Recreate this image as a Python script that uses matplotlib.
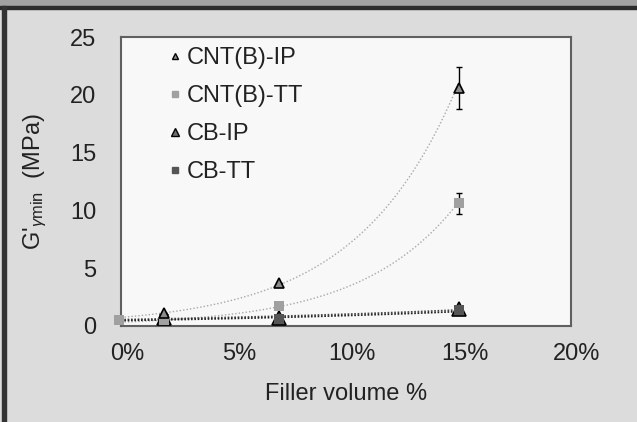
import numpy as np
import matplotlib
matplotlib.use('Agg')
import matplotlib.pyplot as plt
import matplotlib.transforms as mtransforms
from matplotlib.patches import Rectangle

plt.rcParams['font.family'] = ['Liberation Sans', 'DejaVu Sans']
plt.rcParams['mathtext.fontset'] = 'custom'
plt.rcParams['mathtext.rm'] = 'Liberation Sans'
plt.rcParams['mathtext.it'] = 'Liberation Sans:italic'

# data (filler volume fraction, G' in MPa)
x_cnt_ip = [0.019, 0.07, 0.15]
y_cnt_ip = [1.1, 3.7, 20.6]
e_cnt_ip = [0, 0, 1.8]

x_cnt_tt = [-0.001, 0.019, 0.07, 0.15]
y_cnt_tt = [0.55, 0.5, 1.7, 10.6]
e_cnt_tt = [0, 0, 0, 0.9]

x_cb_ip = [0.019, 0.07, 0.15]
y_cb_ip = [0.7, 0.7, 1.5]

x_cb_tt = [0.019, 0.07, 0.15]
y_cb_tt = [0.6, 0.6, 1.35]

xticks = [0, 0.05, 0.10, 0.15, 0.20]
xticklabels = ['0%', '5%', '10%', '15%', '20%']
yticks = [0, 5, 10, 15, 20, 25]

W, H = 637, 422
fs = 17
fig = plt.figure(figsize=(W / 100, H / 100), dpi=100)
fig.patch.set_facecolor('#dcdcdc')
# frame decorations
fig.patches.append(Rectangle((0, 1 - 6 / H), 1, 6 / H, transform=fig.transFigure, color='#a2a2a2', zorder=0))
fig.patches.append(Rectangle((0, 1 - 9 / H), 1, 3 / H, transform=fig.transFigure, color='#2c2c2c', zorder=1))
fig.patches.append(Rectangle((2 / W, 0), 4 / W, 1 - 6 / H, transform=fig.transFigure, color='#333333', zorder=1))

ax = fig.add_axes([121 / W, (H - 326) / H, 450 / W, 289 / H])
ax.set_facecolor('#f8f8f8')
for s in ax.spines.values():
    s.set_color('#606060')
    s.set_linewidth(1.5)

# exponential trendlines
xx = np.linspace(0, 0.15, 200)
def expfit(x, y):
    b, a = np.polyfit(x, np.log(y), 1)
    return np.exp(a) * np.exp(b * xx)

ax.plot(xx, expfit(x_cnt_ip, y_cnt_ip), ls=(0, (1, 1.5)), color='#a8a8a8', lw=1, zorder=2)
ax.plot(xx, expfit(x_cnt_tt[1:], y_cnt_tt[1:]), ls=(0, (1, 1.5)), color='#a8a8a8', lw=1, zorder=2)
ax.plot(xx, expfit(x_cb_ip, y_cb_ip), ls=(0, (1, 1)), color='#444444', lw=1.2, zorder=2)
ax.plot(xx, expfit(x_cb_tt, y_cb_tt), ls=(0, (1, 1)), color='#222222', lw=1.2, zorder=2)

# error bars
ax.errorbar(x_cnt_ip, y_cnt_ip, yerr=e_cnt_ip, fmt='none', ecolor='black', elinewidth=1, capsize=2.5, zorder=4)
ax.errorbar(x_cnt_tt, y_cnt_tt, yerr=e_cnt_tt, fmt='none', ecolor='black', elinewidth=1, capsize=2.5, zorder=4)

h1, = ax.plot(x_cnt_ip, y_cnt_ip, '^', ms=7.5, mfc='#8c8c8c', mec='black', mew=1.2,
              label='CNT(B)-IP', zorder=5, clip_on=False)
h2, = ax.plot(x_cnt_tt, y_cnt_tt, 's', ms=7.5, mfc='#a0a0a0', mec='#a0a0a0', mew=0,
              label='CNT(B)-TT', zorder=4.5, clip_on=False)
h3, = ax.plot(x_cb_ip, y_cb_ip, '^', ms=10, mfc='#6e6e6e', mec='black', mew=1.2,
              label='CB-IP', zorder=3, clip_on=False)
h4, = ax.plot(x_cb_tt, y_cb_tt, 's', ms=7.5, mfc='#555555', mec='#555555', mew=0,
              label='CB-TT', zorder=3.5, clip_on=False)

ax.set_xlim(0, 0.20)
ax.set_ylim(0, 25)
ax.set_xticks(xticks)
ax.set_xticklabels(xticklabels)
ax.set_yticks(yticks)
ax.tick_params(length=0, labelsize=fs, labelcolor='#222222')
ax.tick_params(axis='x', pad=12)
ax.tick_params(axis='y', pad=18)
off = mtransforms.ScaledTranslation(6 / 100, 0, fig.dpi_scale_trans)
for lab in ax.get_xticklabels():
    lab.set_transform(lab.get_transform() + off)

ax.set_xlabel('Filler volume %', fontsize=fs, color='#222222', labelpad=13)
ax.set_ylabel(r"G'$_{\gamma \mathrm{min}}$  (MPa)", fontsize=fs, color='#222222', labelpad=15)

leg = ax.legend(handles=[h1, h2, h3, h4], loc='upper left', bbox_to_anchor=(0.105, 0.965), frameon=False,
                fontsize=fs, markerscale=0.6, handlelength=0.6, handletextpad=0.2, borderpad=0,
                borderaxespad=0, labelspacing=0.68, labelcolor='#222222')
for h in leg.legend_handles:
    h.set_markeredgewidth(1)

fig.savefig('out.png', dpi=100, facecolor=fig.get_facecolor())
